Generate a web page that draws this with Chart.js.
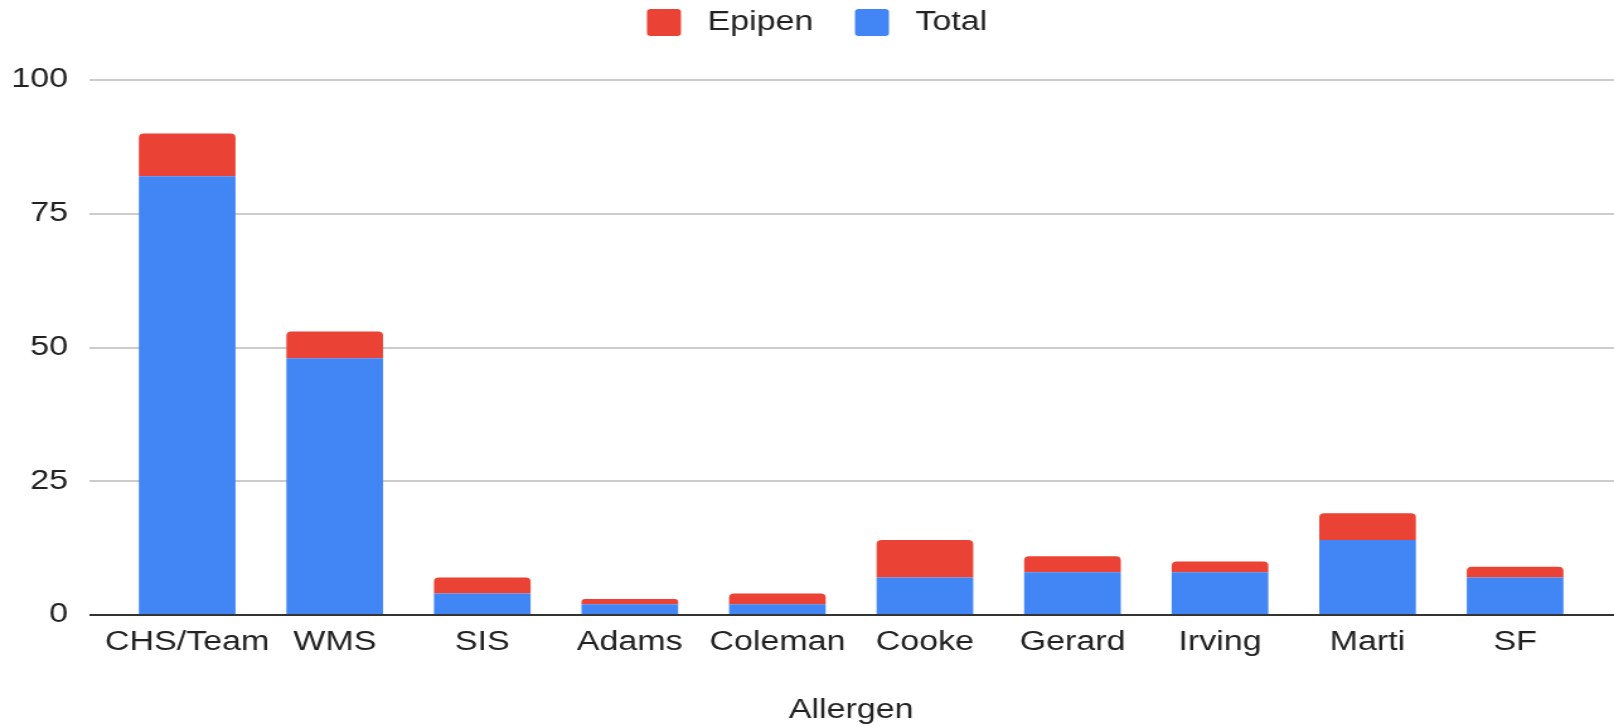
<!DOCTYPE html>
<html>
<head>
<meta charset="utf-8">
<script src="https://cdn.jsdelivr.net/npm/chart.js@4/dist/chart.umd.min.js"></script>
<style>
  html, body { margin: 0; padding: 0; background: #fff; overflow: hidden; }
  /* the reference is stretched sideways, so draw narrow and widen */
  #wrap { width: 1281px; height: 727px; transform: scaleX(1.26); transform-origin: 0 0; }
</style>
</head>
<body>
<div id="wrap"><canvas id="myChart" width="1281" height="727"></canvas></div>
<script>
const schools = ["CHS/Team", "WMS", "SIS", "Adams", "Coleman", "Cooke", "Gerard", "Irving", "Marti", "SF"];
const totalValues = [82, 48, 4, 2, 2, 7, 8, 8, 14, 7];
const epipenValues = [8, 5, 3, 1, 2, 7, 3, 2, 5, 2];
const yTicks = [0, 25, 50, 75, 100];

const colors = {
  red: "#EA4335",
  blue: "#4285F4",
  text: "#222222",
  grid: "#cccccc",
  base: "#333333",
};
const font = "'Liberation Sans', Arial, sans-serif";

// gridlines reach a bit left of the plot, like the sheet chart
const gridLines = {
  id: "gridLines",
  beforeDatasetsDraw(chart) {
    const { ctx, chartArea, scales } = chart;
    ctx.save();
    ctx.strokeStyle = colors.grid;
    ctx.lineWidth = 2;
    yTicks.forEach((v) => {
      if (v === 0) return;
      const py = Math.round(scales.y.getPixelForValue(v));
      ctx.beginPath();
      ctx.moveTo(chartArea.left - 19, py);
      ctx.lineTo(chart.width, py);
      ctx.stroke();
    });
    ctx.restore();
  },
  afterDatasetsDraw(chart) {
    const { ctx, chartArea, scales } = chart;
    const py = Math.round(scales.y.getPixelForValue(0));
    ctx.save();
    ctx.strokeStyle = colors.base;
    ctx.lineWidth = 2;
    ctx.beginPath();
    ctx.moveTo(chartArea.left - 19, py);
    ctx.lineTo(chart.width, py);
    ctx.stroke();
    ctx.restore();
  },
};

// extra room under the legend, and nudge it right a little
const legendSpace = {
  id: "legendSpace",
  afterInit(chart) {
    const fit = chart.legend.fit;
    chart.legend.fit = function () {
      fit.bind(chart.legend)();
      this.height += 34;
    };
  },
  afterLayout(chart) {
    chart.legend.left += 18;
    chart.legend.right += 18;
  },
};

const ctx = document.getElementById("myChart").getContext("2d");
const myChart = new Chart(ctx, {
  type: "bar",
  data: {
    labels: schools,
    datasets: [
      {
        label: "Total",
        data: totalValues,
        backgroundColor: colors.blue,
        borderWidth: 0,
        borderRadius: 0,
        barPercentage: 0.655,
        categoryPercentage: 1,
      },
      {
        label: "Epipen",
        data: epipenValues,
        backgroundColor: colors.red,
        borderWidth: 0,
        borderRadius: { topLeft: 4, topRight: 4, bottomLeft: 0, bottomRight: 0 },
        borderSkipped: false,
        barPercentage: 0.655,
        categoryPercentage: 1,
      },
    ],
  },
  plugins: [gridLines, legendSpace],
  options: {
    responsive: false,
    animation: false,
    layout: {
      padding: { top: -24, right: 20, bottom: 0, left: 0 },
    },
    scales: {
      x: {
        stacked: true,
        grid: { display: false, drawTicks: false },
        border: { display: false },
        ticks: {
          color: colors.text,
          padding: 11,
          maxRotation: 0,
          autoSkip: false,
          font: { family: font, size: 27 },
        },
        title: {
          display: true,
          text: "Allergen",
          color: colors.text,
          padding: { top: 0, bottom: 0 },
          font: { family: font, size: 27 },
        },
        afterFit(scale) {
          scale.height = 112;
        },
      },
      y: {
        stacked: true,
        min: 0,
        max: 100,
        grid: { display: false, drawTicks: false },
        border: { display: false },
        ticks: {
          stepSize: 25,
          color: colors.text,
          padding: 36,
          font: { family: font, size: 27 },
        },
        afterFit(scale) {
          scale.width = 90;
        },
      },
    },
    plugins: {
      tooltip: { enabled: false },
      legend: {
        position: "top",
        reverse: true,
        labels: {
          color: colors.text,
          boxWidth: 27,
          boxHeight: 27,
          padding: 33,
          useBorderRadius: true,
          borderRadius: 3,
          font: { family: font, size: 27 },
          generateLabels(chart) {
            const items = Chart.defaults.plugins.legend.labels.generateLabels(chart);
            items.forEach((item) => {
              item.text = " " + item.text;
            });
            return items;
          },
        },
      },
    },
  },
});
</script>
</body>
</html>
